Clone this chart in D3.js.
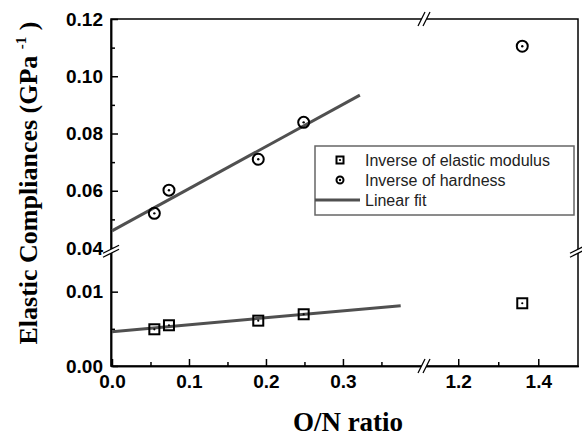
<!DOCTYPE html>
<meta charset="utf-8">
<style>
  body { margin: 0; background: #fff; }
</style>
<svg width="582" height="438"></svg>
<script src="https://cdn.jsdelivr.net/npm/d3@7"></script>
<script>
// data
var ratio = [0.055, 0.074, 0.19, 0.249, 1.36];
var invModulus = [0.00494, 0.00548, 0.0061, 0.00696, 0.00844];
var invHardness = [0.0521, 0.0602, 0.071, 0.0839, 0.1105];
var fitHardness = [[0, 0.046], [0.322, 0.0934]];
var fitModulus = [[0, 0.00462], [0.375, 0.00812]];
var xMajor = [0, 0.1, 0.2, 0.3, 1.2, 1.4];
var xMinor = [0.05, 0.15, 0.25, 0.35, 1.3];
var yMajor = [0, 0.01, 0.04, 0.06, 0.08, 0.10, 0.12];
var yMinor = [0.005, 0.05, 0.07, 0.09, 0.11];
var legendNames = ["Inverse of elastic modulus", "Inverse of hardness", "Linear fit"];

var svg = d3.select("svg");
var pLeft = 111, pRight = 578, pTop = 19, pBottom = 366;

// broken axes as piecewise linear scales
var x = d3.scaleLinear().domain([0, 0.404, 1.117, 1.5]).range([112, 423, 425, 578.3]);
var y = d3.scaleLinear().domain([0, 0.015, 0.04, 0.12]).range([366, 254.5, 248, 19]);

var lineColor = "#505050";

// frame
svg.append("rect")
    .attr("x", pLeft).attr("y", pTop)
    .attr("width", pRight - pLeft).attr("height", pBottom - pTop)
    .attr("fill", "none").attr("stroke", "#000").attr("stroke-width", 1.5);

// axes (ticks pointing inward)
var gx = svg.append("g").attr("transform", "translate(0," + pBottom + ")");
gx.call(d3.axisBottom(x).tickValues(xMajor).tickSize(-7).tickSizeOuter(0).tickPadding(9)
    .tickFormat(d3.format(".1f")));
gx.append("g").call(d3.axisBottom(x).tickValues(xMinor).tickSize(-4).tickSizeOuter(0).tickFormat(""));

var gy = svg.append("g").attr("transform", "translate(" + pLeft + ",0)");
gy.call(d3.axisLeft(y).tickValues(yMajor).tickSize(-7).tickSizeOuter(0).tickPadding(8)
    .tickFormat(d3.format(".2f")));
gy.append("g").call(d3.axisLeft(y).tickValues(yMinor).tickSize(-4).tickSizeOuter(0).tickFormat(""));

svg.selectAll(".domain").attr("stroke", "#000").attr("stroke-width", 1.5);
svg.selectAll(".tick line").attr("stroke", "#000").attr("stroke-width", 1.5);
svg.selectAll(".tick text")
    .style("font-family", "'Liberation Sans', Arial, sans-serif")
    .style("font-weight", "bold")
    .style("font-size", "19px")
    .style("fill", "#000");

// break marks
function breakMark(cx, cy, vertical) {
  var g = svg.append("g").attr("transform", "translate(" + cx + "," + cy + ")");
  var pts = vertical
      ? [[-8, 2], [8, -6], [8, -2], [-8, 6]]      // on a vertical axis
      : [[-6, 7], [1, -7], [6, -7], [-1, 7]];     // on a horizontal axis
  g.append("polygon").attr("points", pts.map(function(p) { return p.join(","); }).join(" "))
      .attr("fill", "#fff");
  [[pts[0], pts[1]], [pts[3], pts[2]]].forEach(function(s) {
    g.append("line")
        .attr("x1", s[0][0]).attr("y1", s[0][1])
        .attr("x2", s[1][0]).attr("y2", s[1][1])
        .attr("stroke", "#000").attr("stroke-width", 1.3);
  });
}
var xb = (x(0.404) + x(1.117)) / 2, yb = (y(0.015) + y(0.04)) / 2;
breakMark(xb, pBottom, false);
breakMark(xb, pTop, false);
breakMark(pLeft, yb, true);
breakMark(pRight, yb, true);

// fit lines
var line = d3.line().x(function(d) { return x(d[0]); }).y(function(d) { return y(d[1]); });
[fitHardness, fitModulus].forEach(function(f) {
  svg.append("path").attr("d", line(f))
      .attr("fill", "none").attr("stroke", lineColor).attr("stroke-width", 3);
});

// markers
function square(g, cx, cy, s) {
  g.append("rect").attr("x", cx - s / 2).attr("y", cy - s / 2).attr("width", s).attr("height", s)
      .attr("fill", "none").attr("stroke", "#000").attr("stroke-width", 2);
  g.append("circle").attr("cx", cx).attr("cy", cy).attr("r", 1.1).attr("fill", "#000");
}
function ring(g, cx, cy, r) {
  g.append("circle").attr("cx", cx).attr("cy", cy).attr("r", r)
      .attr("fill", "none").attr("stroke", "#000").attr("stroke-width", 2);
  g.append("circle").attr("cx", cx).attr("cy", cy).attr("r", 1.2).attr("fill", "#000");
}
var marks = svg.append("g");
ratio.forEach(function(r, i) {
  square(marks, x(r), y(invModulus[i]), 10);
  ring(marks, x(r), y(invHardness[i]), 5.5);
});

// legend
var lg = svg.append("g");
lg.append("rect").attr("x", 315).attr("y", 146).attr("width", 259).attr("height", 69)
    .attr("fill", "#fff").attr("stroke", "#666").attr("stroke-width", 1.5);
square(lg, 340, 160, 7);
ring(lg, 340, 180, 3.5);
lg.append("line").attr("x1", 315).attr("x2", 360).attr("y1", 200).attr("y2", 200)
    .attr("stroke", lineColor).attr("stroke-width", 3);
lg.selectAll("text.lab").data(legendNames).enter().append("text")
    .attr("class", "lab")
    .attr("x", 365)
    .attr("y", function(d, i) { return 166 + i * 20; })
    .attr("font-family", "Liberation Sans, Arial, sans-serif")
    .attr("font-size", 16)
    .attr("fill", "#222")
    .text(function(d) { return d; });

// axis titles
svg.append("text")
    .attr("x", 348).attr("y", 431)
    .attr("text-anchor", "middle")
    .attr("font-family", "Liberation Serif, Times New Roman, serif")
    .attr("font-weight", "bold").attr("font-size", 27)
    .text("O/N ratio");

var yt = svg.append("text")
    .attr("transform", "translate(37,183) rotate(-90)")
    .attr("text-anchor", "middle")
    .attr("font-family", "Liberation Serif, Times New Roman, serif")
    .attr("font-weight", "bold").attr("font-size", 26);
yt.append("tspan").text("Elastic Compliances (GPa ");
yt.append("tspan").attr("dy", -11).attr("font-size", 15).text(" -1");
yt.append("tspan").attr("dy", 11).text(" )");
</script>
